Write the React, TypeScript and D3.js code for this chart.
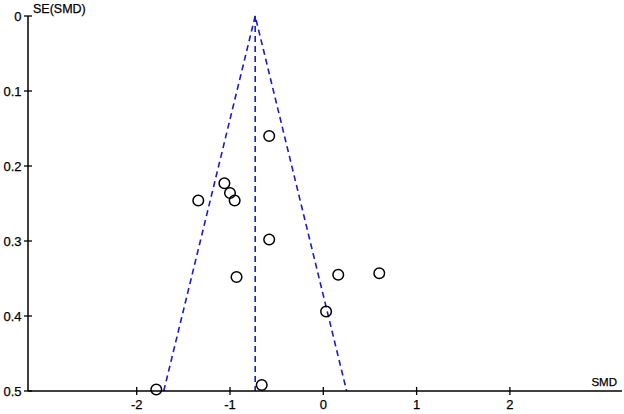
import React from "react";
import * as d3 from "d3";

const smd = [-0.58, -1.06, -1.0, -0.95, -1.34, -0.58, -0.93, 0.16, 0.6, 0.03, -1.79, -0.66];
const se = [0.16, 0.223, 0.236, 0.246, 0.246, 0.298, 0.348, 0.345, 0.343, 0.394, 0.498, 0.492];
const pooled = -0.73;
const xTicks = [-2, -1, 0, 1, 2];
const yTicks = [0, 0.1, 0.2, 0.3, 0.4, 0.5];

export default function App() {
  const W = 624, H = 414;
  const x = d3.scaleLinear().domain([0, 1]).range([323.3, 416.6]);
  const y = d3.scaleLinear().domain([0, 0.5]).range([16, 391]);
  const x0 = 28;
  const xEnd = 622;
  const blue = "#1a1ad6";
  const font = "Liberation Sans, Arial, sans-serif";
  const txt = { fontFamily: font, fill: "#000", stroke: "#000", strokeWidth: 0.25 };
  const funnel = [
    [pooled - 1.96 * 0.5, 0.5],
    [pooled, 0],
    [pooled + 1.96 * 0.5, 0.5],
  ];
  const line = d3.line<number[]>().x((d) => x(d[0])).y((d) => y(d[1]));
  return (
    <svg width={W} height={H} style={{ position: "absolute", left: 0, top: 0, background: "#fff" }}>
      <rect width={W} height={H} fill="#fff" />
      <path d={line(funnel) || ""} fill="none" stroke={blue} strokeWidth={1.6} strokeDasharray="6,4" />
      <line x1={x(pooled)} x2={x(pooled)} y1={y(0)} y2={y(0.5)} stroke={blue} strokeWidth={1.6} strokeDasharray="6,4" />
      <line x1={x0} x2={x0} y1={y(0)} y2={y(0.5)} stroke="#000" strokeWidth={1.5} />
      <line x1={x0} x2={xEnd} y1={y(0.5)} y2={y(0.5)} stroke="#000" strokeWidth={1.5} />
      {yTicks.map((t) => (
        <g key={t}>
          <line x1={x0 - 4} x2={x0 + 4} y1={y(t)} y2={y(t)} stroke="#000" strokeWidth={1.3} />
          <text x={21.5} y={y(t) + 5} textAnchor="end" fontSize={13} {...txt}>
            {String(t)}
          </text>
        </g>
      ))}
      {xTicks.map((t) => (
        <g key={t}>
          <line x1={x(t)} x2={x(t)} y1={y(0.5) - 4} y2={y(0.5) + 4} stroke="#000" strokeWidth={1.3} />
          <text x={x(t)} y={y(0.5) + 17.5} textAnchor="middle" fontSize={13} {...txt}>
            {t < 0 ? "-" + Math.abs(t) : String(t)}
          </text>
        </g>
      ))}
      <text x={x0 + 5} y={y(0) - 3} fontSize={12.5} {...txt}>SE(SMD)</text>
      <text x={617} y={y(0.5) - 5.5} textAnchor="end" fontSize={11.5} {...txt}>SMD</text>
      {smd.map((v, i) => (
        <circle key={i} cx={x(v)} cy={y(se[i])} r={5.3} fill="none" stroke="#000" strokeWidth={1.5} />
      ))}
    </svg>
  );
}
